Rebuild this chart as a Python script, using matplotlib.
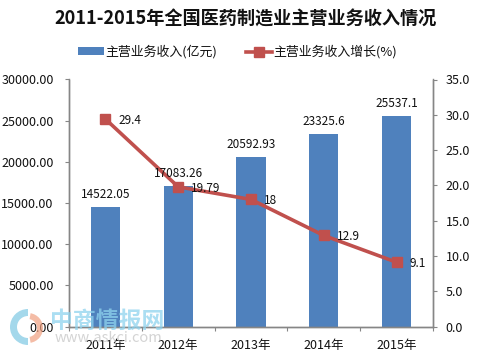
import matplotlib
matplotlib.use("Agg")
import matplotlib.pyplot as plt
from matplotlib.patches import Wedge, Patch
from matplotlib.lines import Line2D

plt.rcParams['font.family'] = ['Noto Sans CJK SC', 'DejaVu Sans']

years = ['2011年', '2012年', '2013年', '2014年', '2015年']
revenue = [14522.05, 17083.26, 20592.93, 23325.6, 25537.1]
revenue_labels = ['14522.05', '17083.26', '20592.93', '23325.6', '25537.1']
growth = [29.4, 19.79, 18, 12.9, 9.1]
growth_labels = ['29.4', '19.79', '18', '12.9', '9.1']
left_ticks = [0, 5000, 10000, 15000, 20000, 25000, 30000]
right_ticks = [0, 5, 10, 15, 20, 25, 30, 35]

W, H = 478, 354
fig = plt.figure(figsize=(W/100, H/100), dpi=100, facecolor='white')
L, R, T, B = 69, 433, 79.5, 326.5
ax = fig.add_axes([L/W, 1-B/H, (R-L)/W, (B-T)/H])
ax2 = ax.twinx()

blue = '#4F81BD'
red = '#C0504D'
grey = '#868686'
x = list(range(5))
ax.bar(x, revenue, width=0.4, color=blue, zorder=2)
ax.set_xlim(-0.5, 4.5)
ax.set_ylim(0, 30000)
ax.set_yticks(left_ticks, [f'{v:.2f}' for v in left_ticks])
ax.set_xticks([i-0.5 for i in range(6)], minor=False)
ax.set_xticklabels([])
ax.set_xticks(x, years, minor=True)
ax.tick_params(axis='x', which='minor', length=0, labelsize=9, pad=9, colors='#111111')
ax.tick_params(axis='x', which='major', length=3, direction='out', color=grey)
ax.tick_params(axis='y', length=3, direction='out', color=grey, labelsize=9, pad=8, labelcolor='#111111')

ax2.plot(x, growth, color=red, lw=2.6, marker='s', ms=7.2, mfc=red, mec=red, zorder=3)
ax2.set_ylim(0, 35)
ax2.set_yticks(right_ticks, [f'{v:.1f}' for v in right_ticks])
ax2.tick_params(axis='y', length=3, direction='out', color=grey, labelsize=9, pad=6, labelcolor='#111111')

for a in (ax, ax2):
    a.spines['top'].set_visible(False)
    for s in ('left', 'right', 'bottom'):
        a.spines[s].set_color(grey)
        a.spines[s].set_linewidth(1.0)

for xi, v, t in zip(x, revenue, revenue_labels):
    ax2.annotate(t, (xi, v*35/30000), xytext=(0, 4.5), textcoords='offset points', ha='center', va='bottom',
                 fontsize=8.5, color='#111111', zorder=6)
for xi, v, t in zip(x, growth, growth_labels):
    ax2.annotate(t, (xi, v), xytext=(9.5, -1), textcoords='offset points', ha='left', va='center',
                 fontsize=8.5, color='#111111', zorder=6)

fig.text(246/W, 1-19/H, '2011-2015年全国医药制造业主营业务收入情况', ha='center', va='center',
         fontsize=13.1, fontweight='bold', color='#111111', family=['Noto Sans CJK SC'])

handles = [Patch(facecolor=blue), Line2D([], [], color=red, lw=2.6, marker='s', ms=6.5, mfc=red, mec=red)]
fig.legend(handles, ['主营业务收入(亿元)', '主营业务收入增长(%)'], loc='center', ncol=2,
           bbox_to_anchor=(237.5/W, 1-52/H), frameon=False, fontsize=9.3,
           handlelength=2.0, handleheight=0.55, handletextpad=0.15, columnspacing=2.2, labelcolor='#111111')

ov = fig.add_axes([0, 0, 1, 1], facecolor='none', zorder=10)
ov.set_xlim(0, W); ov.set_ylim(H, 0); ov.axis('off')
ov.add_patch(Wedge((28, 327), 18, 90, 270, width=7, color='#7EC8E3', alpha=0.7, lw=0))
ov.add_patch(Wedge((28, 328), 15, -80, 80, width=6, color='#F0A080', alpha=0.7, lw=0))
ov.text(107, 321, '中商情报网', ha='center', va='center', fontsize=16.5, color='#8FD3EE', alpha=0.75, fontweight='bold')
ov.text(108, 338, 'www.askci.com', ha='center', va='center', fontsize=10.5, color='#BDBDBD', alpha=0.65)

fig.savefig('out.png', dpi=100, facecolor='white')
